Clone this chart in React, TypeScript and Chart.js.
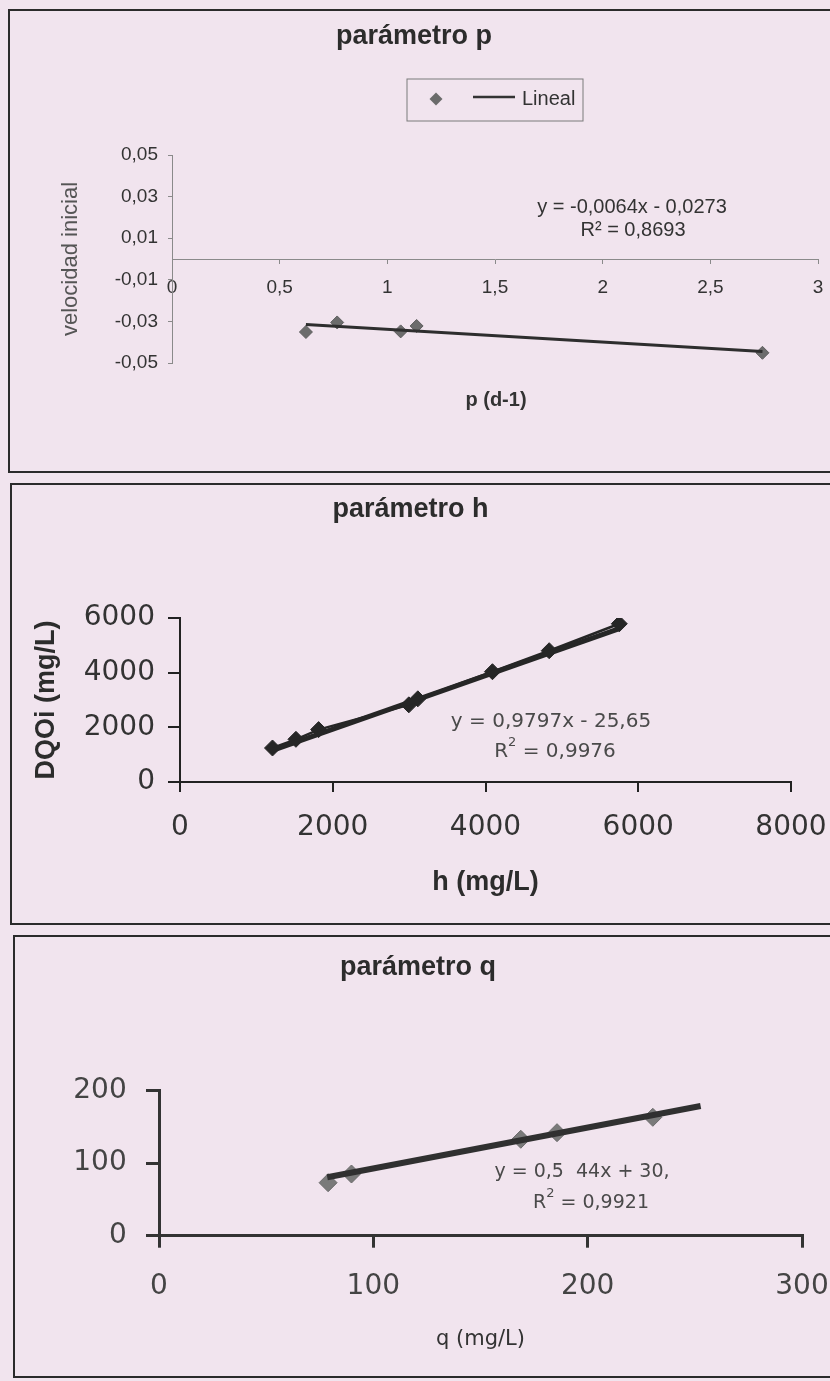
import React, { useEffect, useRef } from 'react';
import { Chart, registerables } from 'chart.js';

Chart.register(...registerables);

// ---------------- data ----------------
const P_X = [0.622, 0.767, 1.062, 1.136, 2.742];
const P_Y = [-0.0351, -0.0305, -0.0348, -0.0322, -0.0451];
const P_TREND_X = [0.622, 2.742];
const P_TREND_Y = [-0.0315, -0.0445];
const P_X_TICKS = [0, 0.5, 1, 1.5, 2, 2.5, 3];
const P_Y_TICKS = [-0.05, -0.03, -0.01, 0.01, 0.03, 0.05];

const H_X = [1211, 1518, 1815, 2996, 3114, 4091, 4834, 5752];
const H_Y = [1244, 1562, 1917, 2823, 3043, 4035, 4803, 5789];
const H_TREND_X = [1211, 5752];
const H_TREND_Y = [1161, 5610];
const H_X_TICKS = [0, 2000, 4000, 6000, 8000];
const H_Y_TICKS = [0, 2000, 4000, 6000];

const Q_X = [78.9, 89.8, 168.8, 185.7, 230.4];
const Q_Y = [73.1, 85.1, 133.0, 142.1, 163.3];
const Q_TREND_X = [78.5, 252.7];
const Q_TREND_Y = [80.6, 178.9];
const Q_X_TICKS = [0, 100, 200, 300];
const Q_Y_TICKS = [0, 100, 200];

const P_TITLE = 'parámetro p';
const H_TITLE = 'parámetro h';
const Q_TITLE = 'parámetro q';
const P_X_LABEL = 'p (d-1)';
const P_Y_LABEL = 'velocidad inicial';
const H_X_LABEL = 'h (mg/L)';
const H_Y_LABEL = 'DQOi (mg/L)';
const Q_X_LABEL = 'q (mg/L)';
const LEGEND_LABEL = 'Lineal';
const P_EQ = 'y = -0,0064x - 0,0273';
const P_R2 = 'R² = 0,8693';
const H_EQ = 'y = 0,9797x - 25,65';
const H_R2 = '0,9976';
const Q_EQ = 'y = 0,5  44x + 30,';
const Q_R2 = '0,9921';

// ---------------- styling ----------------
const BG = '#f1e4ee';
const ARIAL = '"Liberation Sans", Arial, sans-serif';
const DEJAVU = '"DejaVu Sans", Verdana, sans-serif';
const INK = '#2c2c2c';

const pts = (xs: number[], ys: number[]) => xs.map((x, i) => ({ x, y: ys[i] }));
const setTicks = (values: number[]) => (scale: any) => {
  scale.ticks = values.map((v) => ({ value: v }));
};
const fmt = (v: any) => String(v).replace('.', ',');
const fixWidth = (w: number) => (scale: any) => {
  scale.width = w;
};
const fixHeight = (h: number) => (scale: any) => {
  scale.height = h;
  scale.paddingLeft = 0;
  scale.paddingRight = 0;
};

// plugin drawing equations, legend frame and loose labels
const panelText = {
  id: 'panelText',
  afterDraw(chart: any, _args: any, opts: any) {
    const ctx = chart.ctx as CanvasRenderingContext2D;
    const items = (opts && opts.items) || [];
    ctx.save();
    for (const it of items) {
      if (it.type === 'rect') {
        ctx.strokeStyle = it.stroke;
        ctx.lineWidth = it.lw;
        ctx.strokeRect(it.x, it.y, it.w, it.h);
      } else if (it.type === 'diamond') {
        ctx.fillStyle = it.fill;
        ctx.beginPath();
        ctx.moveTo(it.x, it.y - it.r);
        ctx.lineTo(it.x + it.r, it.y);
        ctx.lineTo(it.x, it.y + it.r);
        ctx.lineTo(it.x - it.r, it.y);
        ctx.closePath();
        ctx.fill();
      } else if (it.type === 'line') {
        ctx.strokeStyle = it.color;
        ctx.lineWidth = it.lw;
        ctx.beginPath();
        ctx.moveTo(it.x1, it.y);
        ctx.lineTo(it.x2, it.y);
        ctx.stroke();
      } else if (it.type === 'text') {
        ctx.fillStyle = it.color;
        ctx.textBaseline = 'middle';
        ctx.textAlign = 'left';
        let total = 0;
        for (const s of it.segs) {
          ctx.font = s.font;
          total += ctx.measureText(s.t).width;
        }
        let x = it.align === 'left' ? it.x : it.x - total / 2;
        for (const s of it.segs) {
          ctx.font = s.font;
          ctx.fillText(s.t, x, it.y + (s.dy || 0));
          x += ctx.measureText(s.t).width;
        }
      }
    }
    ctx.restore();
  },
};

const titleOpts = (text: string, top: number, bottom: number) => ({
  display: true,
  text,
  color: INK,
  font: { family: ARIAL, size: 27, weight: 'bold' as const },
  padding: { top, bottom },
});

const baseOptions = () => ({
  animation: false as const,
  responsive: false,
  devicePixelRatio: 1,
  events: [] as any[],
});

// ---------------- chart configs ----------------
const configP = (): any => ({
  type: 'scatter',
  data: {
    datasets: [
      {
        data: pts(P_TREND_X, P_TREND_Y),
        showLine: true,
        borderColor: '#2e2e2e',
        borderWidth: 3,
        pointRadius: 0,
      },
      {
        data: pts(P_X, P_Y),
        showLine: false,
        pointStyle: 'rectRot',
        pointRadius: 6.5,
        pointBackgroundColor: '#6c6c6c',
        pointBorderColor: '#5e5e5e',
        pointBorderWidth: 1,
      },
    ],
  },
  options: {
    ...baseOptions(),
    layout: { padding: { left: 0, right: 18, top: 0, bottom: 108 } },
    plugins: {
      legend: { display: false },
      tooltip: { enabled: false },
      title: titleOpts(P_TITLE, 9.8, 101.8),
      panelText: {
        items: [
          { type: 'rect', x: 397, y: 68, w: 176, h: 42, stroke: '#7a7a7a', lw: 1 },
          { type: 'diamond', x: 426, y: 88, r: 6.5, fill: '#6b6b6b' },
          { type: 'line', x1: 463, x2: 505, y: 86, lw: 2.5, color: '#333' },
          { type: 'text', align: 'left', x: 512, y: 88, color: '#333', segs: [{ t: LEGEND_LABEL, font: `20px ${ARIAL}` }] },
          { type: 'text', x: 622, y: 196, color: '#333', segs: [{ t: P_EQ, font: `20px ${ARIAL}` }] },
          { type: 'text', x: 623, y: 219, color: '#333', segs: [{ t: P_R2, font: `20px ${ARIAL}` }] },
          { type: 'text', x: 486, y: 389, color: '#333', segs: [{ t: P_X_LABEL, font: `bold 20px ${ARIAL}` }] },
        ],
      },
    },
    scales: {
      x: {
        type: 'linear',
        position: { y: 0 },
        min: 0,
        max: 3,
        afterBuildTicks: setTicks(P_X_TICKS),
        afterFit: fixHeight(109),
        ticks: { callback: fmt, color: '#333', font: { family: ARIAL, size: 19 }, padding: 13, maxRotation: 0, autoSkip: false },
        grid: { display: true, drawOnChartArea: false, drawTicks: true, tickLength: 4, color: '#8a8a8a', lineWidth: 1 },
        border: { display: true, color: '#8a8a8a', width: 1 },
      },
      y: {
        type: 'linear',
        position: 'left',
        min: -0.05,
        max: 0.05,
        afterBuildTicks: setTicks(P_Y_TICKS),
        afterFit: fixWidth(162),
        ticks: { callback: fmt, color: '#333', font: { family: ARIAL, size: 19 }, padding: 10, autoSkip: false },
        grid: { display: true, drawOnChartArea: false, drawTicks: true, tickLength: 4, color: '#8a8a8a', lineWidth: 1 },
        border: { display: true, color: '#8a8a8a', width: 1 },
        title: { display: true, text: P_Y_LABEL, color: '#555', font: { family: ARIAL, size: 22 }, padding: { top: 47.8, bottom: 0 } },
      },
    },
  },
  plugins: [panelText],
});

const configH = (): any => ({
  type: 'scatter',
  data: {
    datasets: [
      {
        data: pts(H_TREND_X, H_TREND_Y),
        showLine: true,
        borderColor: '#262626',
        borderWidth: 5,
        pointRadius: 0,
      },
      {
        data: pts(H_X, H_Y),
        showLine: true,
        borderColor: '#262626',
        borderWidth: 2.5,
        pointStyle: 'rectRot',
        pointRadius: 8,
        pointBackgroundColor: '#262626',
        pointBorderColor: '#262626',
        pointBorderWidth: 1,
      },
    ],
  },
  options: {
    ...baseOptions(),
    layout: { padding: { left: 18, right: 47, top: 0, bottom: 0 } },
    plugins: {
      legend: { display: false },
      tooltip: { enabled: false },
      title: titleOpts(H_TITLE, 8.8, 91.8),
      panelText: {
        items: [
          { type: 'text', x: 539, y: 237, color: '#4a4a4a', segs: [{ t: H_EQ, font: `20px ${DEJAVU}` }] },
          {
            type: 'text', x: 543, y: 267, color: '#4a4a4a',
            segs: [
              { t: 'R', font: `20px ${DEJAVU}` },
              { t: '2', font: `13px ${DEJAVU}`, dy: -9 },
              { t: ' = ' + H_R2, font: `20px ${DEJAVU}` },
            ],
          },
        ],
      },
    },
    scales: {
      x: {
        type: 'linear',
        position: 'bottom',
        min: 0,
        max: 8000,
        afterBuildTicks: setTicks(H_X_TICKS),
        afterFit: fixHeight(141),
        ticks: { callback: fmt, color: '#333', font: { family: DEJAVU, size: 28 }, padding: 19.2, maxRotation: 0, autoSkip: false },
        grid: { display: true, drawOnChartArea: false, drawTicks: true, tickLength: 10, color: '#222', lineWidth: 2 },
        border: { display: true, color: '#222', width: 2 },
        title: { display: true, text: H_X_LABEL, color: INK, font: { family: ARIAL, size: 27, weight: 'bold' }, padding: { top: 0, bottom: 23.8 } },
      },
      y: {
        type: 'linear',
        position: 'left',
        min: 0,
        max: 6000,
        afterBuildTicks: setTicks(H_Y_TICKS),
        afterFit: fixWidth(150),
        ticks: { callback: fmt, color: '#333', font: { family: DEJAVU, size: 28 }, padding: 13, autoSkip: false },
        grid: { display: true, drawOnChartArea: false, drawTicks: true, tickLength: 12, color: '#222', lineWidth: 2 },
        border: { display: true, color: '#222', width: 2 },
        title: { display: true, text: H_Y_LABEL, color: INK, font: { family: ARIAL, size: 27, weight: 'bold' }, padding: { top: 0, bottom: 0 } },
      },
    },
  },
  plugins: [panelText],
});

const configQ = (): any => ({
  type: 'scatter',
  data: {
    datasets: [
      {
        data: pts(Q_TREND_X, Q_TREND_Y),
        showLine: true,
        borderColor: '#303030',
        borderWidth: 6,
        pointRadius: 0,
      },
      {
        data: pts(Q_X, Q_Y),
        showLine: false,
        pointStyle: 'rectRot',
        pointRadius: 9,
        pointBackgroundColor: '#7a7a7a',
        pointBorderColor: '#6a6a6a',
        pointBorderWidth: 1,
      },
    ],
  },
  options: {
    ...baseOptions(),
    layout: { padding: { left: 19, right: 39, top: 0, bottom: 0 } },
    plugins: {
      legend: { display: false },
      tooltip: { enabled: false },
      title: titleOpts(Q_TITLE, 14.8, 106.5),
      panelText: {
        items: [
          { type: 'text', x: 567, y: 235, color: '#4a4a4a', segs: [{ t: Q_EQ, font: `19px ${DEJAVU}` }] },
          {
            type: 'text', x: 576, y: 266, color: '#4a4a4a',
            segs: [
              { t: 'R', font: `19px ${DEJAVU}` },
              { t: '2', font: `13px ${DEJAVU}`, dy: -9 },
              { t: ' = ' + Q_R2, font: `19px ${DEJAVU}` },
            ],
          },
        ],
      },
    },
    scales: {
      x: {
        type: 'linear',
        position: 'bottom',
        min: 0,
        max: 300,
        afterBuildTicks: setTicks(Q_X_TICKS),
        afterFit: fixHeight(140.3),
        ticks: { callback: fmt, color: '#444', font: { family: DEJAVU, size: 28 }, padding: 22.2, maxRotation: 0, autoSkip: false },
        grid: { display: true, drawOnChartArea: false, drawTicks: true, tickLength: 12, color: '#333', lineWidth: 3 },
        border: { display: true, color: '#333', width: 3 },
        title: { display: true, text: Q_X_LABEL, color: '#333', font: { family: DEJAVU, size: 21 }, padding: { top: 0, bottom: 23.4 } },
      },
      y: {
        type: 'linear',
        position: 'left',
        min: 0,
        max: 200,
        afterBuildTicks: setTicks(Q_Y_TICKS),
        afterFit: fixWidth(125),
        ticks: { callback: fmt, color: '#444', font: { family: DEJAVU, size: 28 }, padding: 19.3, autoSkip: false },
        grid: { display: true, drawOnChartArea: false, drawTicks: true, tickLength: 13, color: '#333', lineWidth: 3 },
        border: { display: true, color: '#333', width: 3 },
      },
    },
  },
  plugins: [panelText],
});

// ---------------- components ----------------
function ChartPanel(props: { left: number; top: number; height: number; config: () => any }) {
  const ref = useRef<HTMLCanvasElement>(null);
  useEffect(() => {
    if (!ref.current) return;
    const chart = new Chart(ref.current, props.config());
    return () => chart.destroy();
  }, []);
  return (
    <div
      style={{
        position: 'absolute',
        left: props.left,
        top: props.top,
        width: 830,
        height: props.height,
        border: '2px solid #2b2b2b',
        boxSizing: 'border-box',
      }}
    >
      <canvas ref={ref} width={826} height={props.height - 4} style={{ display: 'block' }} />
    </div>
  );
}

export default function App() {
  return (
    <div
      style={{
        position: 'absolute',
        left: 0,
        top: 0,
        width: 830,
        height: 1381,
        overflow: 'hidden',
        background: BG,
      }}
    >
      <ChartPanel left={8} top={9} height={464} config={configP} />
      <ChartPanel left={10} top={483} height={442} config={configH} />
      <ChartPanel left={13} top={935} height={443} config={configQ} />
    </div>
  );
}
